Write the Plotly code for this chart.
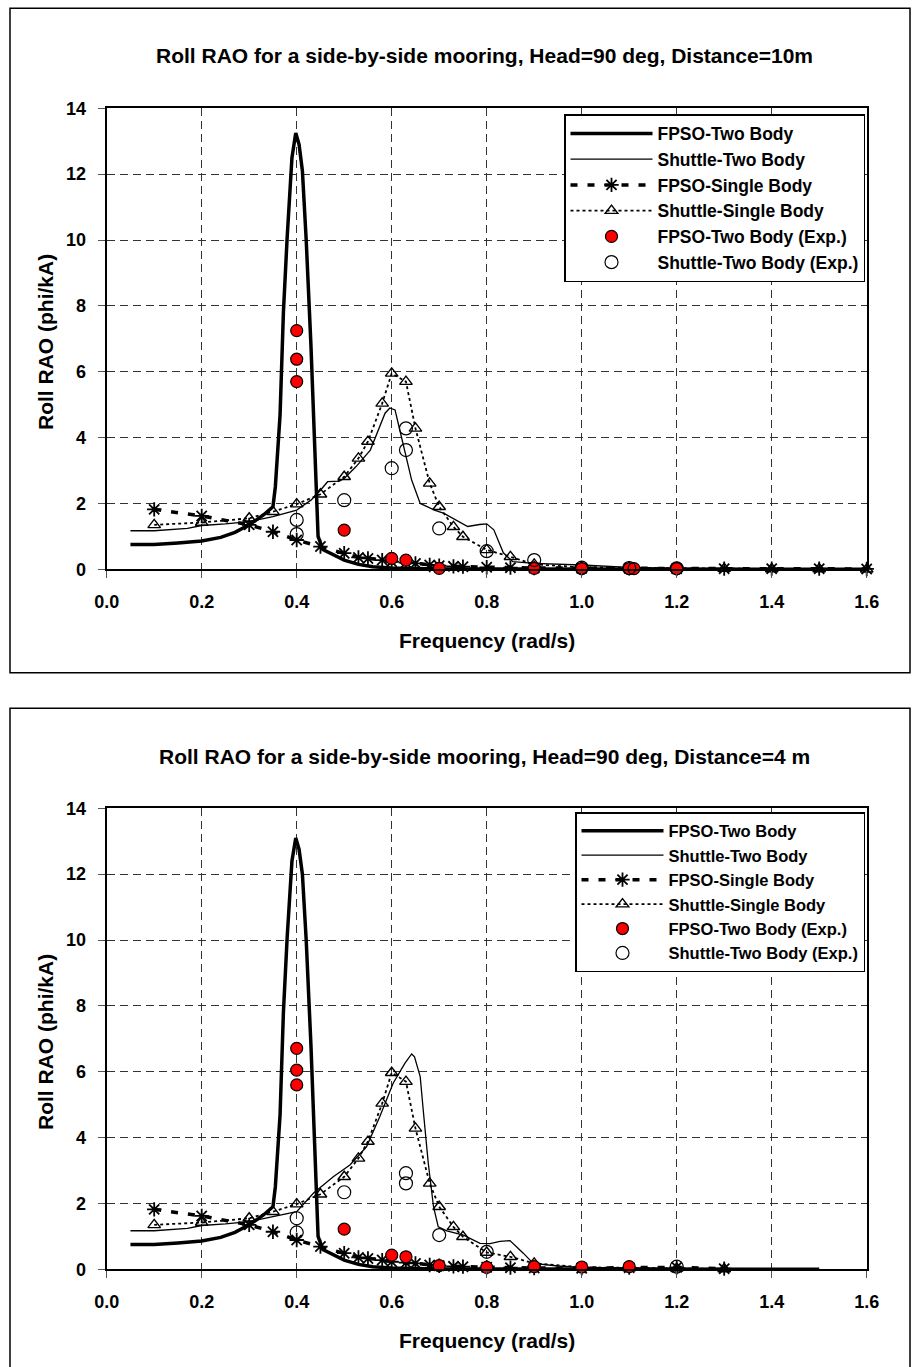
import plotly.graph_objects as go

W, H = 912, 1367
FONT = "Liberation Sans, Arial, sans-serif"

# ---------------- data : Distance = 10 m ----------------
fpso2_x_10 = [0.05, 0.1, 0.15, 0.2, 0.24, 0.27, 0.3, 0.33, 0.35, 0.355, 0.365, 0.372, 0.38, 0.39, 0.398,
              0.405, 0.412, 0.42, 0.43, 0.438, 0.445, 0.455, 0.48, 0.5, 0.53, 0.56, 0.6, 0.65, 0.7, 0.8,
              1.0, 1.2, 1.4, 1.6]
fpso2_y_10 = [0.75, 0.75, 0.8, 0.86, 0.97, 1.12, 1.35, 1.65, 1.9, 2.5, 4.7, 7.8, 10.1, 12.5, 13.25,
              12.9, 12.1, 10.0, 6.8, 3.7, 1.0, 0.6, 0.42, 0.28, 0.15, 0.08, 0.04, 0.02, 0.01, 0.01,
              0.0, 0.0, 0.0, 0.0]
shut2_x_10 = [0.05, 0.1, 0.17, 0.2, 0.25, 0.3, 0.35, 0.4, 0.43, 0.45, 0.465, 0.49, 0.5, 0.525, 0.555,
              0.575, 0.586, 0.596, 0.607, 0.617, 0.628, 0.642, 0.66, 0.69, 0.71, 0.74, 0.76, 0.785,
              0.8, 0.815, 0.835, 0.855, 0.9, 1.0, 1.1, 1.2, 1.4, 1.6]
shut2_y_10 = [1.17, 1.17, 1.24, 1.33, 1.38, 1.45, 1.6, 1.8, 2.1, 2.4, 2.66, 2.68, 2.76, 3.12, 3.62,
              4.33, 4.74, 4.9, 4.84, 4.23, 3.52, 2.71, 2.0, 1.8, 1.7, 1.45, 1.3, 1.36,
              1.38, 1.2, 0.5, 0.23, 0.18, 0.13, 0.06, 0.03, 0.01, 0.0]
single_x_10 = [0.1, 0.2, 0.3, 0.35, 0.4, 0.45, 0.5, 0.53, 0.55, 0.58, 0.6, 0.63, 0.65, 0.68, 0.7, 0.73,
               0.75, 0.8, 0.85, 0.9, 1.0, 1.1, 1.2, 1.3, 1.4, 1.5, 1.6]
fpso1_y_10 = [1.82, 1.62, 1.35, 1.14, 0.89, 0.69, 0.49, 0.36, 0.33, 0.28, 0.23, 0.2, 0.18, 0.13, 0.11,
              0.09, 0.08, 0.06, 0.05, 0.04, 0.03, 0.03, 0.02, 0.02, 0.02, 0.02, 0.01]
shut1_y_10 = [1.35, 1.42, 1.55, 1.75, 1.98, 2.28, 2.81, 3.37, 3.88, 5.04, 5.95, 5.70, 4.28, 2.61, 1.90,
              1.29, 0.99, 0.59, 0.38, 0.15, 0.06, 0.04, 0.03, 0.02, 0.01, 0.01, 0.0]
fpsoexp_x_10 = [0.4, 0.4, 0.4, 0.5, 0.6, 0.63, 0.7, 0.9, 1.0, 1.1, 1.11, 1.2]
fpsoexp_y_10 = [7.25, 6.38, 5.7, 1.19, 0.33, 0.28, 0.03, 0.03, 0.02, 0.02, 0.02, 0.02]
shutexp_x_10 = [0.4, 0.4, 0.5, 0.6, 0.63, 0.63, 0.7, 0.8, 0.9, 1.0, 1.1, 1.2]
shutexp_y_10 = [1.5, 1.07, 2.1, 3.07, 4.28, 3.62, 1.24, 0.55, 0.28, 0.05, 0.04, 0.03]

# ---------------- data : Distance = 4 m ----------------
fpso2_x_4 = [0.05, 0.1, 0.15, 0.2, 0.24, 0.27, 0.3, 0.33, 0.35, 0.355, 0.365, 0.372, 0.38, 0.39, 0.398,
             0.405, 0.412, 0.42, 0.43, 0.438, 0.445, 0.455, 0.48, 0.5, 0.53, 0.56, 0.6, 0.65, 0.7, 0.8,
             1.0, 1.2, 1.5]
fpso2_y_4 = [0.75, 0.75, 0.8, 0.86, 0.97, 1.12, 1.35, 1.65, 1.9, 2.5, 4.7, 7.8, 10.1, 12.4, 13.1,
             12.75, 12.0, 10.0, 6.8, 3.7, 1.0, 0.6, 0.42, 0.28, 0.15, 0.08, 0.04, 0.02, 0.01, 0.01,
             0.0, 0.0, 0.0]
shut2_x_4 = [0.05, 0.1, 0.17, 0.2, 0.25, 0.3, 0.35, 0.4, 0.435, 0.477, 0.512, 0.547, 0.575, 0.603, 0.628,
             0.642, 0.648, 0.66, 0.667, 0.677, 0.688, 0.698, 0.716, 0.751, 0.786, 0.807, 0.828, 0.849,
             0.877, 0.898, 0.95, 1.0, 1.1, 1.2, 1.3, 1.5]
shut2_y_4 = [1.17, 1.17, 1.24, 1.33, 1.38, 1.45, 1.6, 1.75, 2.31, 2.81, 3.17, 3.72, 4.64, 5.65, 6.26,
             6.54, 6.45, 5.85, 4.74, 3.22, 1.9, 1.29, 1.17, 1.04, 0.79, 0.78, 0.85, 0.87,
             0.49, 0.18, 0.1, 0.06, 0.04, 0.02, 0.01, 0.0]
single_x_4 = [0.1, 0.2, 0.3, 0.35, 0.4, 0.45, 0.5, 0.53, 0.55, 0.58, 0.6, 0.63, 0.65, 0.68, 0.7, 0.73,
              0.75, 0.8, 0.85, 0.9, 1.0, 1.1, 1.2, 1.3]
fpso1_y_4 = [1.82, 1.62, 1.35, 1.14, 0.89, 0.69, 0.49, 0.36, 0.33, 0.28, 0.23, 0.2, 0.18, 0.13, 0.11,
             0.09, 0.08, 0.06, 0.05, 0.04, 0.03, 0.05, 0.06, 0.02]
shut1_y_4 = [1.35, 1.42, 1.55, 1.75, 1.98, 2.28, 2.81, 3.37, 3.88, 5.04, 5.97, 5.70, 4.28, 2.61, 1.90,
             1.29, 0.99, 0.51, 0.38, 0.18, 0.06, 0.04, 0.03, 0.01]
fpsoexp_x_4 = [0.4, 0.4, 0.4, 0.5, 0.6, 0.63, 0.7, 0.8, 0.9, 1.0, 1.1]
fpsoexp_y_4 = [6.71, 6.05, 5.6, 1.22, 0.43, 0.38, 0.11, 0.06, 0.08, 0.07, 0.08]
shutexp_x_4 = [0.4, 0.4, 0.5, 0.63, 0.63, 0.7, 0.8, 1.2]
shutexp_y_4 = [1.55, 1.12, 2.34, 2.92, 2.61, 1.04, 0.53, 0.08]

titles = ["Roll RAO for a side-by-side mooring, Head=90 deg, Distance=10m",
          "Roll RAO for a side-by-side mooring, Head=90 deg, Distance=4 m"]
names = ["FPSO-Two Body", "Shuttle-Two Body", "FPSO-Single Body", "Shuttle-Single Body",
         "FPSO-Two Body (Exp.)", "Shuttle-Two Body (Exp.)"]
xlabel = "Frequency (rad/s)"
ylabel = "Roll RAO (phi/kA)"


def px(xp):
    return xp / W


def py(yp):
    return 1 - yp / H


fig = go.Figure()

datasets = [
    dict(f2x=fpso2_x_10, f2y=fpso2_y_10, s2x=shut2_x_10, s2y=shut2_y_10, sx=single_x_10,
         f1y=fpso1_y_10, s1y=shut1_y_10, fex=fpsoexp_x_10, fey=fpsoexp_y_10,
         sex=shutexp_x_10, sey=shutexp_y_10),
    dict(f2x=fpso2_x_4, f2y=fpso2_y_4, s2x=shut2_x_4, s2y=shut2_y_4, sx=single_x_4,
         f1y=fpso1_y_4, s1y=shut1_y_4, fex=fpsoexp_x_4, fey=fpsoexp_y_4,
         sex=shutexp_x_4, sey=shutexp_y_4),
]

for i, d in enumerate(datasets):
    xa = "x" if i == 0 else "x2"
    ya = "y" if i == 0 else "y2"
    lg = "legend" if i == 0 else "legend2"
    common = dict(xaxis=xa, yaxis=ya, legend=lg, cliponaxis=False)
    fig.add_trace(go.Scatter(x=d["f2x"], y=d["f2y"], mode="lines", name=names[0],
                             line=dict(color="black", width=3.5), **common))
    fig.add_trace(go.Scatter(x=d["s2x"], y=d["s2y"], mode="lines", name=names[1],
                             line=dict(color="black", width=1.3), **common))
    fig.add_trace(go.Scatter(x=d["sx"], y=d["f1y"], mode="lines+markers", name=names[2],
                             line=dict(color="black", width=3.5, dash="7px,10px"),
                             marker=dict(symbol="asterisk-open", size=12,
                                         line=dict(color="black", width=1.8)), **common))
    fig.add_trace(go.Scatter(x=d["sx"], y=d["s1y"], mode="lines+markers", name=names[3],
                             line=dict(color="black", width=1.8, dash="3px,3px"),
                             marker=dict(symbol="triangle-up-open", size=11, color="black",
                                         line=dict(color="black", width=1.4)), **common))
    fig.add_trace(go.Scatter(x=d["fex"], y=d["fey"], mode="markers", name=names[4],
                             marker=dict(symbol="circle", size=12, color="#ff0000",
                                         line=dict(color="black", width=1.2)), **common))
    fig.add_trace(go.Scatter(x=d["sex"], y=d["sey"], mode="markers", name=names[5],
                             marker=dict(symbol="circle-open", size=13, color="black",
                                         line=dict(color="black", width=1.2)), **common))

axis_common = dict(showgrid=True, gridcolor="#333333", gridwidth=1, griddash="8px,5px",
                   showline=True, linecolor="black", linewidth=2, mirror=True,
                   ticks="outside", ticklen=7, tickcolor="#555555", tickwidth=1,
                   zeroline=False, automargin=False,
                   tickfont=dict(family=FONT, size=18, color="black", weight="bold"))

xdom = [px(106.7), px(866.7)]
ydom_top = [py(569.3), py(108.3)]
ydom_bot = [py(1269.3), py(808.3)]

legend_common = dict(xanchor="right", yanchor="top", bgcolor="white", bordercolor="black",
                     borderwidth=1.5, itemwidth=82, traceorder="normal")

fig.update_layout(
    template="none",
    width=W, height=H, autosize=False,
    margin=dict(l=0, r=0, t=0, b=0, pad=0),
    paper_bgcolor="white", plot_bgcolor="white",
    font=dict(family=FONT, color="black"),
    xaxis=dict(domain=xdom, range=[0, 1.6], dtick=0.2, tick0=0, tickformat=".1f", anchor="y",
               ticklabelstandoff=8, **axis_common),
    yaxis=dict(domain=ydom_top, range=[0, 14], dtick=2, tick0=0, anchor="x",
               ticklabelstandoff=8, **axis_common),
    xaxis2=dict(domain=xdom, range=[0, 1.6], dtick=0.2, tick0=0, tickformat=".1f", anchor="y2",
                ticklabelstandoff=8, **axis_common),
    yaxis2=dict(domain=ydom_bot, range=[0, 14], dtick=2, tick0=0, anchor="x2",
                ticklabelstandoff=8, **axis_common),
    legend=dict(x=px(865), y=py(114),
                font=dict(family=FONT, size=17.5, color="black", weight="bold"), **legend_common),
    legend2=dict(x=px(865), y=py(812),
                 font=dict(family=FONT, size=16.5, color="black", weight="bold"), **legend_common),
    showlegend=True,
)

# frames around each chart
fig.add_shape(type="rect", xref="paper", yref="paper", x0=px(10), x1=px(910), y0=py(672.7), y1=py(8.3),
              line=dict(color="black", width=1.5), layer="below")
fig.add_shape(type="rect", xref="paper", yref="paper", x0=px(10), x1=px(910), y0=py(1380), y1=py(708.3),
              line=dict(color="black", width=1.5), layer="below")

ann_font = dict(family=FONT, size=21, color="black", weight="bold")
for i, off in enumerate([0, 700]):
    fig.add_annotation(text=titles[i], xref="paper", yref="paper", x=px(484), y=py(56 + off),
                       showarrow=False, xanchor="center", yanchor="middle", font=ann_font)
    fig.add_annotation(text=xlabel, xref="paper", yref="paper", x=px(487), y=py(640 + off),
                       showarrow=False, xanchor="center", yanchor="middle", font=ann_font)
    fig.add_annotation(text=ylabel, xref="paper", yref="paper", x=px(45), y=py(342 + off),
                       showarrow=False, xanchor="center", yanchor="middle", textangle=-90,
                       font=ann_font)

fig.write_html("out.html")
